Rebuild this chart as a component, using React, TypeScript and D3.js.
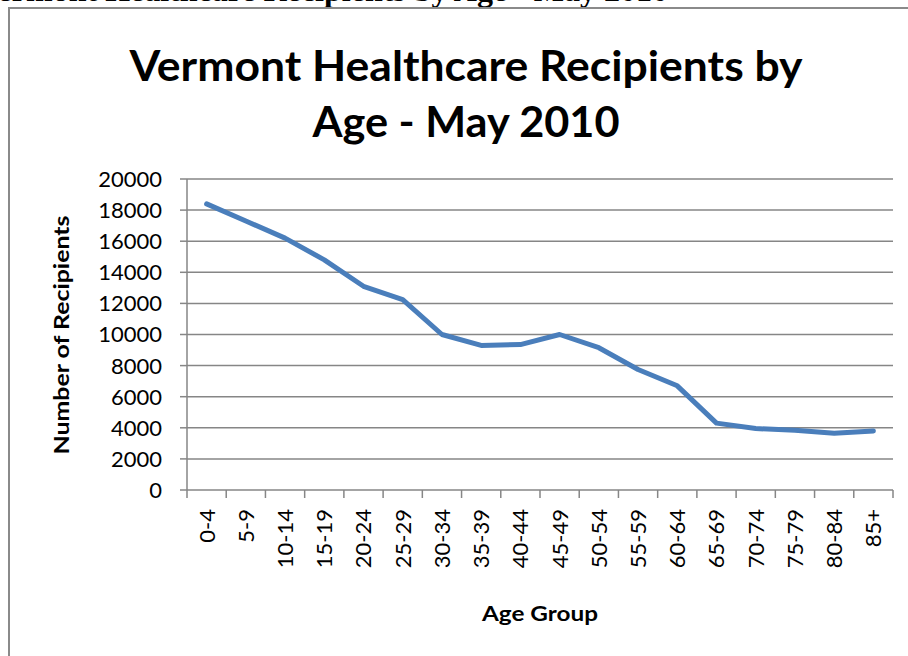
import React from 'react';
import * as d3 from 'd3';

const ageGroups = ['0-4', '5-9', '10-14', '15-19', '20-24', '25-29', '30-34', '35-39', '40-44',
  '45-49', '50-54', '55-59', '60-64', '65-69', '70-74', '75-79', '80-84', '85+'];
const recipients = [18400, 17300, 16200, 14800, 13100, 12250, 10000, 9300, 9350,
  10000, 9150, 7750, 6700, 4300, 3950, 3850, 3650, 3800];
const yTicks = [0, 2000, 4000, 6000, 8000, 10000, 12000, 14000, 16000, 18000, 20000];

const W = 908;
const H = 656;
const plot = { left: 187, right: 893, top: 179, bottom: 490 };
const font = 'Lato, "Open Sans", sans-serif';

export default function App(): React.ReactElement {
  const x = d3.scaleBand<string>().domain(ageGroups).range([plot.left, plot.right]);
  const y = d3.scaleLinear().domain([0, 20000]).range([plot.bottom, plot.top]);

  const line = d3
    .line<number>()
    .x((_, i) => (x(ageGroups[i]) ?? 0) + x.bandwidth() / 2)
    .y(d => y(d));

  const grid = '#868686';

  return (
    <svg width={W} height={H} style={{ position: 'absolute', left: 0, top: 0, background: '#fff' }}>
      {/* caption of the page, cut off at the top */}
      <text x={668} y={0.8} textAnchor="end" fontFamily='"Liberation Serif", serif' fontWeight="bold" fontSize={32}>
        Vermont Healthcare Recipients by Age - May 2010
      </text>

      {/* chart frame */}
      <rect x={9} y={8} width={W + 20} height={H + 20} fill="#fff" stroke="#8a8a8a" strokeWidth={2} />

      <text x={466} y={81} textAnchor="middle" fontFamily={font} fontWeight="bold" fontSize={42}
        textLength={673} lengthAdjust="spacingAndGlyphs">
        Vermont Healthcare Recipients by
      </text>
      <text x={466} y={137} textAnchor="middle" fontFamily={font} fontWeight="bold" fontSize={42}
        textLength={307} lengthAdjust="spacingAndGlyphs">
        Age - May 2010
      </text>

      {/* gridlines and y axis */}
      {yTicks.map(t => (
        <g key={t}>
          {t > 0 && (
            <line x1={plot.left} x2={plot.right} y1={y(t)} y2={y(t)} stroke={grid} strokeWidth={1.5} />
          )}
          <line x1={plot.left - 7} x2={plot.left} y1={y(t)} y2={y(t)} stroke={grid} strokeWidth={1.5} />
          <text x={162} y={y(t)} dy="0.36em" textAnchor="end" fontFamily={font} fontSize={22} fill="#000">
            {t}
          </text>
        </g>
      ))}
      <line x1={plot.left} x2={plot.left} y1={plot.top} y2={plot.bottom + 8} stroke={grid} strokeWidth={1.5} />

      {/* x axis */}
      <line x1={plot.left} x2={plot.right} y1={plot.bottom} y2={plot.bottom} stroke={grid} strokeWidth={1.5} />
      {ageGroups.map(g => (
        <line key={'t' + g} x1={(x(g) ?? 0) + x.bandwidth()} x2={(x(g) ?? 0) + x.bandwidth()}
          y1={plot.bottom} y2={plot.bottom + 8} stroke={grid} strokeWidth={1.5} />
      ))}
      {ageGroups.map(g => {
        const cx = (x(g) ?? 0) + x.bandwidth() / 2;
        return (
          <text key={'l' + g} transform={`translate(${cx},509) rotate(-90)`} dy="0.36em" textAnchor="end"
            fontFamily={font} fontSize={22} fill="#000">
            {g}
          </text>
        );
      })}

      <text transform="translate(69,335) rotate(-90)" textAnchor="middle" fontFamily={font} fontWeight="bold"
        fontSize={20} textLength={239} lengthAdjust="spacingAndGlyphs">
        Number of Recipients
      </text>
      <text x={540} y={621} textAnchor="middle" fontFamily={font} fontWeight="bold" fontSize={20}
        textLength={116} lengthAdjust="spacingAndGlyphs">
        Age Group
      </text>

      <path d={line(recipients) ?? ''} fill="none" stroke="#4a7ebb" strokeWidth={5} strokeLinejoin="round"
        strokeLinecap="round" />
    </svg>
  );
}
